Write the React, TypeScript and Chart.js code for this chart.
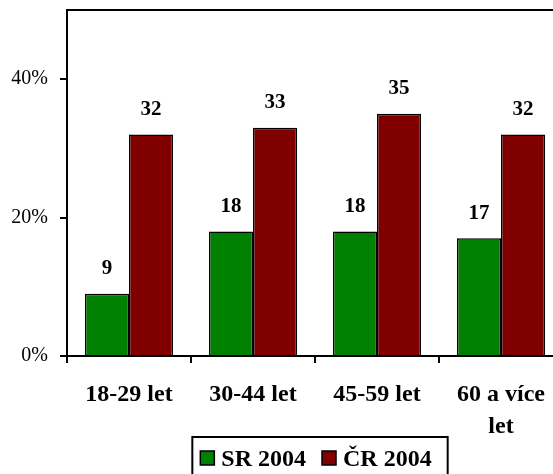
import React, { useEffect, useRef } from "react";
import { Chart, registerables } from "chart.js";

Chart.register(...registerables);

const categories: (string | string[])[] = ["18-29 let", "30-44 let", "45-59 let", ["60 a více", "let"]];
const seriesNames = ["SR 2004", "ČR 2004"];
const srValues = [9, 18, 18, 17];
const crValues = [32, 33, 35, 32];
const yTickValues = [0, 20, 40];
const seriesColors = ["#008000", "#800000"];

const FONT = '"Liberation Serif", "Times New Roman", serif';

const dataLabelPlugin = {
  id: "dataLabels",
  afterDatasetsDraw(chart: any) {
    const ctx = chart.ctx;
    ctx.save();
    ctx.font = `bold 21px ${FONT}`;
    ctx.fillStyle = "#000";
    ctx.textAlign = "center";
    ctx.textBaseline = "middle";
    chart.data.datasets.forEach((ds: any, i: number) => {
      const meta = chart.getDatasetMeta(i);
      meta.data.forEach((bar: any, j: number) => {
        ctx.fillText(String(ds.data[j]), bar.x, bar.y - 25);
      });
    });
    ctx.restore();
  },
};

const framePlugin = {
  id: "frame",
  afterDraw(chart: any) {
    const { ctx, chartArea } = chart;
    ctx.save();
    ctx.strokeStyle = "#000";
    ctx.lineWidth = 2;
    ctx.beginPath();
    ctx.moveTo(chartArea.left, chartArea.top);
    ctx.lineTo(chartArea.right, chartArea.top);
    ctx.lineTo(chartArea.right, chartArea.bottom);
    ctx.stroke();
    ctx.restore();
  },
};

const legendPlugin = {
  id: "boxLegend",
  afterDraw(chart: any) {
    const { ctx, chartArea, scales } = chart;
    const top = scales.x.bottom;
    ctx.save();
    ctx.font = `bold 24px ${FONT}`;
    const items = chart.data.datasets.map((ds: any) => ({
      label: ds.label,
      color: ds.backgroundColor,
      w: ctx.measureText(ds.label).width,
    }));
    const box = 14, gap = 7, itemGap = 16, padL = 8, padR = 16, h = 44;
    const total =
      padL +
      items.reduce((s: number, it: any) => s + box + gap + it.w, 0) +
      itemGap * (items.length - 1) +
      padR;
    const cx = (chartArea.left + chartArea.right) / 2 + 5;
    let x = cx - total / 2;
    ctx.lineWidth = 2;
    ctx.strokeStyle = "#000";
    ctx.strokeRect(x, top, total, h);
    const cy = top + 21;
    x += padL;
    items.forEach((it: any) => {
      ctx.fillStyle = it.color;
      ctx.fillRect(x, cy - 7, box, box);
      ctx.lineWidth = 1.5;
      ctx.strokeRect(x, cy - 7, box, box);
      x += box + gap;
      ctx.fillStyle = "#000";
      ctx.textBaseline = "middle";
      ctx.textAlign = "left";
      ctx.fillText(it.label, x, cy + 2);
      x += it.w + itemGap;
    });
    ctx.restore();
  },
};

export default function App() {
  const ref = useRef<HTMLCanvasElement>(null);

  useEffect(() => {
    if (!ref.current) return;
    const chart = new Chart(ref.current, {
      type: "bar",
      data: {
        labels: categories as any,
        datasets: [
          {
            label: seriesNames[0],
            data: srValues,
            backgroundColor: seriesColors[0],
            borderColor: "#000",
            borderWidth: 1.5,
            categoryPercentage: 0.71,
            barPercentage: 1,
          },
          {
            label: seriesNames[1],
            data: crValues,
            backgroundColor: seriesColors[1],
            borderColor: "#000",
            borderWidth: 1.5,
            categoryPercentage: 0.71,
            barPercentage: 1,
          },
        ],
      },
      options: {
        animation: false,
        responsive: false,
        devicePixelRatio: 1,
        layout: { padding: { top: 10, right: 7, bottom: 53, left: 0 } },
        plugins: {
          legend: { display: false },
          tooltip: { enabled: false },
        },
        scales: {
          x: {
            grid: {
              display: true,
              drawOnChartArea: false,
              drawTicks: true,
              tickLength: 7,
              color: "#000",
              lineWidth: 2,
              offset: true,
            },
            border: { display: true, color: "#000", width: 2 },
            ticks: {
              color: "#000",
              font: { family: FONT, size: 24, weight: "bold", lineHeight: 1.33 },
              padding: 16,
              maxRotation: 0,
              autoSkip: false,
            },
            afterFit(scale: any) {
              scale.height = 81;
              scale.paddingLeft = 0;
              scale.paddingRight = 0;
            },
          },
          y: {
            min: 0,
            max: 50,
            ticks: {
              stepSize: 20,
              callback: (v: any) => v + "%",
              color: "#000",
              font: { family: FONT, size: 20 },
              padding: 12,
            },
            afterBuildTicks(scale: any) {
              scale.ticks = yTickValues.map((v) => ({ value: v }));
            },
            grid: {
              drawOnChartArea: false,
              tickLength: 7,
              color: "#000",
              lineWidth: 2,
            },
            border: { color: "#000", width: 2 },
            afterFit(scale: any) {
              scale.width = 67;
              scale.paddingTop = 0;
              scale.paddingBottom = 0;
            },
          },
        },
      } as any,
      plugins: [dataLabelPlugin, framePlugin, legendPlugin],
    });
    return () => chart.destroy();
  }, []);

  return (
    <div
      style={{
        position: "fixed",
        left: 0,
        top: 0,
        width: 553,
        height: 474,
        overflow: "hidden",
        background: "#fff",
      }}
    >
      <canvas ref={ref} width={570} height={490} style={{ width: 570, height: 490, display: "block" }} />
    </div>
  );
}
